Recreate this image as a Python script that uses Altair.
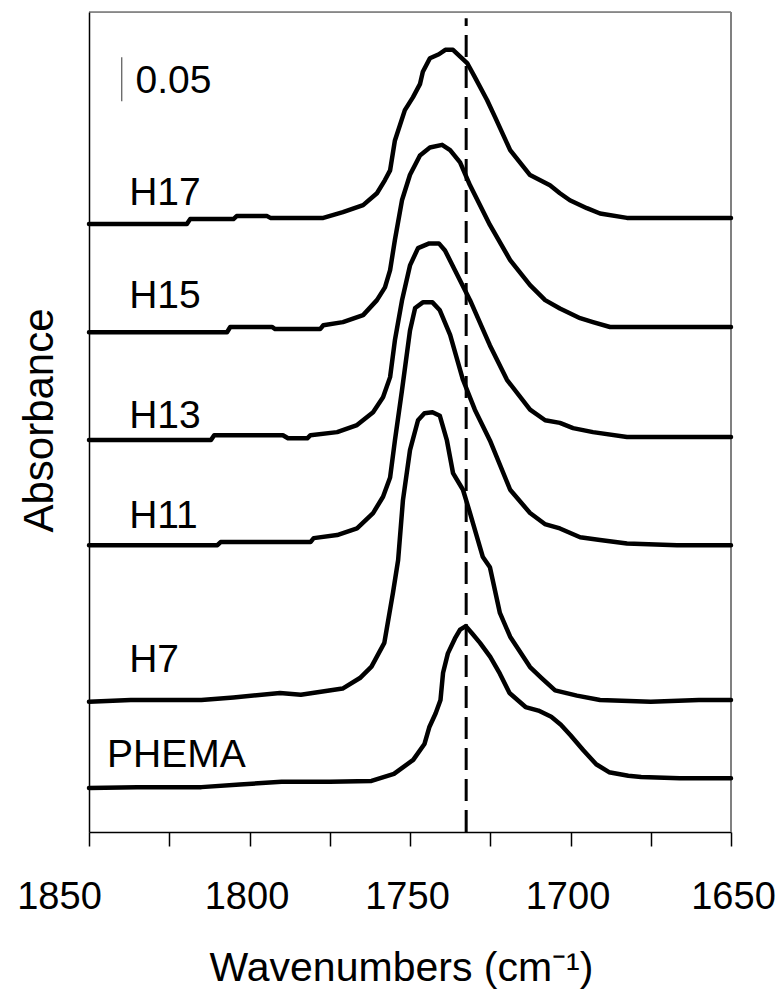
import altair as alt
import pandas as pd

# FTIR carbonyl region, spectra stacked with vertical offsets (absorbance units)
phema_wn = [1850, 1835, 1815, 1803, 1790, 1775, 1762, 1755, 1749, 1745.5, 1744, 1742, 1740.5, 1739.7,
            1738.2, 1736, 1734.4, 1732.6, 1730.5, 1728.2, 1725, 1722, 1719, 1714, 1710, 1706, 1703,
            1700, 1696, 1692, 1688, 1682, 1678, 1666, 1650]
phema_abs = [0.050, 0.051, 0.051, 0.054, 0.057, 0.057, 0.058, 0.066, 0.082, 0.100, 0.119, 0.135, 0.150,
             0.181, 0.203, 0.220, 0.230, 0.234, 0.225, 0.215, 0.199, 0.180, 0.158, 0.142, 0.138, 0.131,
             0.122, 0.110, 0.093, 0.077, 0.068, 0.064, 0.0625, 0.061, 0.061]

h7_wn = [1850, 1837, 1815, 1805, 1790.5, 1784, 1771, 1765.6, 1762, 1758, 1755.3, 1753.7, 1752.2, 1750,
         1747.5, 1745.5, 1743, 1740.7, 1738.5, 1736.6, 1733.5, 1731.3, 1727.3, 1725.1, 1722, 1718.8,
         1712.6, 1709, 1704.8, 1698, 1690.8, 1675, 1660, 1650]
h7_abs = [0.148, 0.150, 0.150, 0.153, 0.158, 0.156, 0.163, 0.175, 0.188, 0.215, 0.272, 0.309, 0.377,
          0.434, 0.468, 0.476, 0.477, 0.473, 0.445, 0.408, 0.389, 0.3625, 0.3125, 0.301, 0.249, 0.222,
          0.1875, 0.175, 0.161, 0.155, 0.150, 0.148, 0.150, 0.150]

h11_wn = [1850, 1810, 1809, 1781, 1780, 1772.7, 1766.5, 1761.5, 1758.4, 1756.2, 1754.7, 1752.5, 1750,
          1748.4, 1746, 1743, 1740.7, 1737.5, 1733.5, 1729.8, 1725.1, 1718.8, 1712.6, 1708, 1703.3,
          1697, 1690.8, 1682.4, 1666.8, 1650]
h11_abs = [0.326, 0.326, 0.3295, 0.3295, 0.334, 0.3375, 0.345, 0.3625, 0.381, 0.403, 0.445, 0.502,
           0.570, 0.5955, 0.602, 0.602, 0.593, 0.565, 0.514, 0.480, 0.445, 0.389, 0.3625, 0.350, 0.345,
           0.335, 0.332, 0.328, 0.326, 0.326]

h13_wn = [1850, 1812, 1811, 1789.6, 1788, 1782, 1781, 1772.7, 1766.5, 1761.5, 1758.4, 1756.2, 1754.7,
          1752.5, 1750, 1747.5, 1744, 1741, 1739.1, 1736, 1731.3, 1725.1, 1719.8, 1712.6, 1707.9,
          1703.3, 1699.2, 1693, 1682.4, 1650]
h13_abs = [0.4455, 0.4455, 0.451, 0.451, 0.4475, 0.4475, 0.451, 0.4545, 0.4625, 0.477, 0.494, 0.517,
           0.559, 0.604, 0.644, 0.6636, 0.669, 0.669, 0.661, 0.6386, 0.6045, 0.553, 0.514, 0.480, 0.468,
           0.465, 0.459, 0.4545, 0.449, 0.449]

h15_wn = [1850, 1807, 1806, 1793, 1792, 1778, 1777, 1770.9, 1764.6, 1760.3, 1757.8, 1756.2, 1754.7,
          1752.5, 1750, 1746.9, 1743.8, 1740, 1737.5, 1734.4, 1731.3, 1725.1, 1718.8, 1712.6, 1707.9,
          1703.3, 1697, 1693, 1687.7, 1650]
h15_abs = [0.568, 0.568, 0.574, 0.574, 0.5716, 0.5716, 0.576, 0.5795, 0.5875, 0.6045, 0.619, 0.6386,
           0.673, 0.718, 0.747, 0.769, 0.778, 0.781, 0.775, 0.761, 0.735, 0.690, 0.650, 0.6216, 0.6045,
           0.595, 0.584, 0.5795, 0.574, 0.574]

h17_wn = [1850, 1819.5, 1818.5, 1805, 1804, 1794.5, 1793.5, 1777, 1770.9, 1764.6, 1760.3, 1757.8,
          1756.2, 1754.7, 1751.6, 1749.1, 1746.9, 1746, 1743.8, 1741, 1739, 1736.6, 1732.2, 1729.8,
          1726, 1723.5, 1718.8, 1712.6, 1706.4, 1703.3, 1700.2, 1694.9, 1690.8, 1682.4, 1650]
h17_abs = [0.691, 0.691, 0.6966, 0.6966, 0.700, 0.700, 0.698, 0.698, 0.7045, 0.7125, 0.726, 0.741,
           0.752, 0.786, 0.8205, 0.835, 0.850, 0.864, 0.8795, 0.884, 0.889, 0.889, 0.874, 0.858, 0.832,
           0.8125, 0.775, 0.7466, 0.735, 0.726, 0.718, 0.709, 0.703, 0.698, 0.698]

# Sample names drawn beside each trace
label_names = ["H17", "H15", "H13", "H11", "H7", "PHEMA"]
label_wn = [1837.5, 1837.5, 1837.5, 1837.5, 1837.5, 1844.4]
label_abs = [0.7125, 0.5955, 0.459, 0.345, 0.182, 0.074]

# Reference band position and scale bar
ref_band_wn = 1732.5
ref_band_top = 0.925
bar_wn = 1839.8
bar_bottom = 0.8307
bar_size = 0.05
bar_text_wn = 1835.5
bar_text_abs = 0.8398

tick_values = [1850, 1825, 1800, 1775, 1750, 1725, 1700, 1675, 1650]
x_domain = [1850, 1650]
y_domain = [0, 0.932]

series = [("PHEMA", phema_wn, phema_abs), ("H7", h7_wn, h7_abs), ("H11", h11_wn, h11_abs),
          ("H13", h13_wn, h13_abs), ("H15", h15_wn, h15_abs), ("H17", h17_wn, h17_abs)]
rows = []
for name, wns, absv in series:
    for i, (w, a) in enumerate(zip(wns, absv)):
        rows.append({"sample": name, "wn": w, "A": a, "i": i})
spectra = pd.DataFrame(rows)

labels = pd.DataFrame({"name": label_names, "wn": label_wn, "A": label_abs})
band = pd.DataFrame({"wn": [ref_band_wn], "y0": [0.0], "y1": [ref_band_top]})
bar = pd.DataFrame({"wn": [bar_wn], "y0": [bar_bottom], "y1": [bar_bottom + bar_size],
                    "tw": [bar_text_wn], "ty": [bar_text_abs], "txt": [f"{bar_size:.2f}"]})
frame = pd.DataFrame({"x0": [x_domain[0]], "x1": [x_domain[1]], "y0": [y_domain[0]], "y1": [y_domain[1]]})

FONT = "Liberation Sans, Arial, sans-serif"

xs = alt.Scale(domain=x_domain, nice=False, zero=False)
ys = alt.Scale(domain=y_domain, nice=False, zero=False)

x_axis = alt.Axis(
    values=tick_values, format="d",
    labelExpr="datum.value % 50 == 0 ? datum.label : ''",
    labelFlush=False, labelOverlap=False, labelFont=FONT, labelFontSize=38,
    labelOffset={"condition": [{"test": "datum.value == 1850", "value": -30},
                               {"test": "datum.value == 1650", "value": 2}],
                 "value": -3},
    labelColor="black", labelBaseline="alphabetic", labelPadding=62,
    tickSize=14, tickColor="black", tickWidth=1.5,
    domainColor="black", domainWidth=1.5, grid=False,
    title="Wavenumbers (cm⁻¹)", titleFont=FONT, titleFontSize=41, titleFontWeight="normal",
    titleColor="black", titleX=312, titleY=148, titleAlign="center", titleBaseline="alphabetic",
)
y_axis = alt.Axis(
    labels=False, ticks=False, grid=False, domainColor="black", domainWidth=1.5,
    title="Absorbance", titleFont=FONT, titleFontSize=42, titleFontWeight="normal",
    titleColor="black", titleAngle=270, titleX=-37, titleY=408, titleAlign="center",
    titleBaseline="alphabetic",
)

lines = alt.Chart(spectra).mark_line(
    color="black", strokeWidth=4.5, strokeJoin="round", strokeCap="round"
).encode(
    x=alt.X("wn:Q", scale=xs, axis=x_axis),
    y=alt.Y("A:Q", scale=ys, axis=y_axis),
    detail="sample:N",
    order="i:Q",
)

band_rule = alt.Chart(band).mark_rule(color="black", strokeWidth=3, strokeDash=[22, 9]).encode(
    x=alt.X("wn:Q", scale=xs), y=alt.Y("y0:Q", scale=ys), y2="y1:Q"
)

bar_rule = alt.Chart(bar).mark_rule(color="#555555", strokeWidth=1.2).encode(
    x=alt.X("wn:Q", scale=xs), y=alt.Y("y0:Q", scale=ys), y2="y1:Q"
)
bar_text = alt.Chart(bar).mark_text(
    font=FONT, fontSize=39, align="left", baseline="alphabetic", color="black"
).encode(x=alt.X("tw:Q", scale=xs), y=alt.Y("ty:Q", scale=ys), text="txt:N")

name_text = alt.Chart(labels).mark_text(
    font=FONT, fontSize=39, align="left", baseline="alphabetic", color="black"
).encode(x=alt.X("wn:Q", scale=xs), y=alt.Y("A:Q", scale=ys), text="name:N")

top_edge = alt.Chart(frame).mark_rule(color="#333333", strokeWidth=1.2).encode(
    x=alt.X("x0:Q", scale=xs), x2="x1:Q", y=alt.Y("y1:Q", scale=ys)
)
right_edge = alt.Chart(frame).mark_rule(color="#808080", strokeWidth=2).encode(
    x=alt.X("x1:Q", scale=xs), y=alt.Y("y0:Q", scale=ys), y2="y1:Q"
)

chart = alt.layer(
    top_edge, right_edge, band_rule, lines, bar_rule, bar_text, name_text
).properties(
    width=642, height=820,
    padding={"left": 89, "top": 12, "right": 48, "bottom": 160},
    autosize=alt.AutoSizeParams(type="none"),
).configure_view(stroke=None).configure(background="white")

chart.save("out.html", embed_options={"renderer": "svg", "actions": False})
